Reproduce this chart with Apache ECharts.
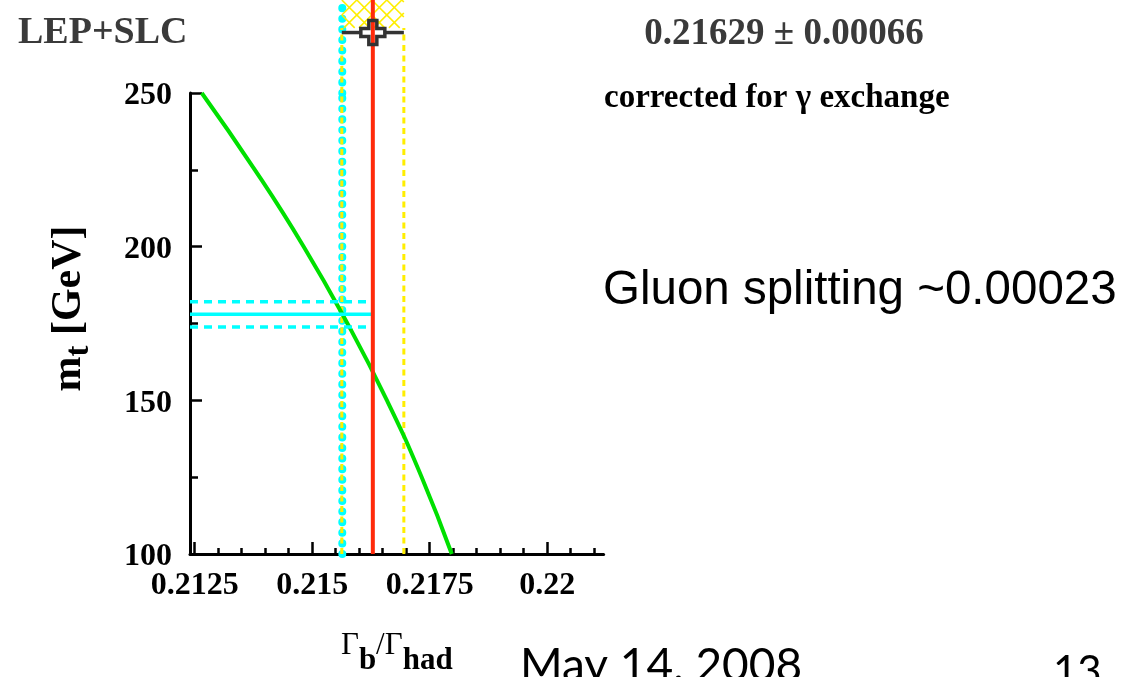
<!DOCTYPE html>
<html>
<head>
<meta charset="utf-8">
<script src="https://cdn.jsdelivr.net/npm/echarts@6/dist/echarts.min.js"></script>
<style>
  html, body { margin: 0; padding: 0; background: #fff; }
  #chart { width: 1122px; height: 677px; }
</style>
</head>
<body>
<div id="chart"></div>
<script>
// Standard Model prediction of Gamma_b/Gamma_had as a function of the top mass
const mtGrid = [100, 125, 150, 175, 200, 225, 250];
const rbSM   = [0.21797, 0.21733, 0.21659, 0.21575, 0.21482, 0.21378, 0.21265];

// Combined LEP+SLC measurement
const rbMeas = 0.21629;
const rbErr  = 0.00066;

// Top mass and the SM value of Gamma_b/Gamma_had at that mass
const mtMeas = 178.0;
const mtErr  = 4.1;
const rbPred = 0.21564;

// Axis ranges and tick labels
const xRange = [0.2124, 0.2212];
const yRange = [100, 250];
const xMajorTicks = [0.2125, 0.215, 0.2175, 0.22];
const xTickLabels = ['0.2125', '0.215', '0.2175', '0.22'];
const yMajorTicks = [100, 150, 200, 250];
const yTickLabels = ['100', '150', '200', '250'];

const xMinorTicks = [];
for (let i = 0; i <= 17; i++) xMinorTicks.push(Number((0.2125 + i * 0.0005).toFixed(4)));
const yMinorTicks = [];
for (let v = 100; v <= 250; v += 25) yMinorTicks.push(v);

// Layout of the measurement strip above the frame (its own 0..1 scale)
const bandFloor = 0.70;
const measRow = 0.65;

const SERIF = '"Liberation Serif", "DejaVu Serif", serif';

function labelFor(ticks, labels, wrap) {
  return function (v) {
    let best = 0;
    for (let i = 1; i < ticks.length; i++) {
      if (Math.abs(ticks[i] - v) < Math.abs(ticks[best] - v)) best = i;
    }
    return wrap ? '{n|' + labels[best] + '}' : labels[best];
  };
}

// clip an infinite line (point + direction) to a rectangle
function clipLine(ax, ay, dx, dy, x0, y0, x1, y1) {
  let tmin = -Infinity, tmax = Infinity;
  const t1 = (x0 - ax) / dx, t2 = (x1 - ax) / dx;
  tmin = Math.max(tmin, Math.min(t1, t2));
  tmax = Math.min(tmax, Math.max(t1, t2));
  const t3 = (y0 - ay) / dy, t4 = (y1 - ay) / dy;
  tmin = Math.max(tmin, Math.min(t3, t4));
  tmax = Math.min(tmax, Math.max(t3, t4));
  if (!(tmin < tmax)) return null;
  return [ax + dx * tmin, ay + dy * tmin, ax + dx * tmax, ay + dy * tmax];
}

function vline(x, y0, y1, xi, yi, style, z) {
  return {
    type: 'line', xAxisIndex: xi, yAxisIndex: yi, data: [[x, y0], [x, y1]],
    symbol: 'none', silent: true, animation: false, z: z, lineStyle: style
  };
}
function hline(x0, x1, y, style, z) {
  return {
    type: 'line', xAxisIndex: 0, yAxisIndex: 0, data: [[x0, y], [x1, y]],
    symbol: 'none', silent: true, animation: false, z: z, lineStyle: style
  };
}

const CYAN = '#00ffff';
const YELLOW = '#ffee00';
const RED = '#ff2a0a';
const GREEN = '#00e000';

const dotted = { color: CYAN, width: 8, type: [0.1, 10.5], cap: 'round' };
const yellowDash = { color: YELLOW, width: 3, type: [6, 4.5] };
const redLine = { color: RED, width: 4 };

const chart = echarts.init(document.getElementById('chart'), null, { renderer: 'canvas' });

chart.setOption({
  backgroundColor: '#fff',
  animation: false,
  grid: [
    { left: 190, top: 93, width: 413.6, height: 461, outerBoundsMode: 'none', containLabel: false },
    { left: 190, top: 0, width: 413.6, height: 93, outerBoundsMode: 'none', containLabel: false }
  ],
  xAxis: [
    {
      gridIndex: 0, type: 'value', min: xRange[0], max: xRange[1], position: 'bottom',
      axisLine: { show: true, onZero: false, lineStyle: { color: '#000', width: 3 } },
      axisTick: { show: true, inside: true, length: 12, customValues: xMajorTicks, lineStyle: { color: '#000', width: 2.5 } },
      axisLabel: {
        customValues: xMajorTicks, formatter: labelFor(xMajorTicks, xTickLabels, false),
        fontFamily: SERIF, fontWeight: 'bold', fontSize: 32, color: '#000', margin: 16
      },
      splitLine: { show: false },
      name: '{g|Γ}{s|b}{g|/Γ}{s|had}',
      nameLocation: 'middle', nameGap: 61,
      nameTextStyle: {
        fontFamily: SERIF, fontSize: 31, color: '#000',
        rich: {
          g: { fontFamily: SERIF, fontSize: 31, color: '#000' },
          s: { fontFamily: SERIF, fontSize: 31, fontWeight: 'bold', color: '#000', padding: [30, 0, 0, 0] }
        }
      }
    },
    {
      gridIndex: 0, type: 'value', min: xRange[0], max: xRange[1], position: 'bottom',
      axisLine: { show: false },
      axisTick: { show: true, inside: true, length: 6, customValues: xMinorTicks, lineStyle: { color: '#000', width: 2.5 } },
      axisLabel: { show: false }, splitLine: { show: false }
    },
    { gridIndex: 1, type: 'value', min: xRange[0], max: xRange[1], show: false }
  ],
  yAxis: [
    {
      gridIndex: 0, type: 'value', min: yRange[0], max: yRange[1], position: 'left',
      axisLine: { show: true, onZero: false, lineStyle: { color: '#000', width: 3 } },
      axisTick: { show: true, inside: true, length: 12, customValues: yMajorTicks, lineStyle: { color: '#000', width: 2.5 } },
      axisLabel: {
        customValues: yMajorTicks, formatter: labelFor(yMajorTicks, yTickLabels, true),
        fontFamily: SERIF, fontWeight: 'bold', fontSize: 32, color: '#000', margin: 18,
        rich: {
          n: { fontFamily: SERIF, fontWeight: 'bold', fontSize: 32, color: '#000', padding: [6, 0, 0, 0] }
        }
      },
      splitLine: { show: false },
      name: '{m|m}{t|t}{m| [GeV]}',
      nameLocation: 'middle', nameRotate: 90, nameGap: 94,
      nameTextStyle: {
        fontFamily: SERIF, fontSize: 42, fontWeight: 'bold', color: '#000',
        padding: [0, 0, 0, 30],
        rich: {
          m: { fontFamily: SERIF, fontSize: 42, fontWeight: 'bold', color: '#000' },
          t: { fontFamily: SERIF, fontSize: 33, fontWeight: 'bold', color: '#000', padding: [20, 0, 0, 0] }
        }
      }
    },
    {
      gridIndex: 0, type: 'value', min: yRange[0], max: yRange[1], position: 'left',
      axisLine: { show: false },
      axisTick: { show: true, inside: true, length: 8, customValues: yMinorTicks, lineStyle: { color: '#000', width: 2.5 } },
      axisLabel: { show: false }, splitLine: { show: false }
    },
    { gridIndex: 1, type: 'value', min: 0, max: 1, show: false }
  ],
  series: [
    // SM prediction at the measured top mass
    vline(rbPred, yRange[0], yRange[1], 0, 0, dotted, 1),
    vline(rbPred, 0, 1, 2, 2, dotted, 1),
    // measurement band edges
    vline(rbMeas - rbErr, yRange[0], yRange[1], 0, 0, yellowDash, 2),
    vline(rbMeas + rbErr, yRange[0], yRange[1], 0, 0, yellowDash, 2),
    vline(rbMeas - rbErr, 0, bandFloor, 2, 2, yellowDash, 2),
    vline(rbMeas + rbErr, 0, bandFloor, 2, 2, yellowDash, 2),
    // cross-hatched measurement band in the strip
    {
      type: 'custom', xAxisIndex: 2, yAxisIndex: 2, silent: true, animation: false, z: 2,
      data: [[rbMeas, measRow]],
      renderItem: function (params, api) {
        const a = api.coord([rbMeas - rbErr, 1]);
        const b = api.coord([rbMeas + rbErr, bandFloor]);
        const x0 = a[0], y0 = a[1], x1 = b[0], y1 = b[1];
        const step = 15;
        const children = [];
        const n = Math.ceil((x1 - x0 + (y1 - y0)) / step) + 2;
        for (let k = -n; k <= n; k++) {
          const ax = x0 + k * step;
          const s1 = clipLine(ax, y0, 1, 1, x0, y0, x1, y1);
          const s2 = clipLine(ax, y0, 1, -1, x0, y0, x1, y1);
          [s1, s2].forEach(function (s) {
            if (s) children.push({
              type: 'line', shape: { x1: s[0], y1: s[1], x2: s[2], y2: s[3] },
              style: { stroke: YELLOW, lineWidth: 1.6 }
            });
          });
        }
        return { type: 'group', children: children };
      }
    },
    // SM curve
    {
      type: 'line', xAxisIndex: 0, yAxisIndex: 0, smooth: true, symbol: 'none',
      silent: true, animation: false, z: 3,
      data: mtGrid.map(function (m, i) { return [rbSM[i], m]; }),
      lineStyle: { color: GREEN, width: 4 }
    },
    // top mass and its uncertainty
    hline(xRange[0], rbMeas, mtMeas, { color: CYAN, width: 3.5 }, 4),
    hline(xRange[0], rbMeas, mtMeas + mtErr, { color: CYAN, width: 3.5, type: [8, 6] }, 4),
    hline(xRange[0], rbMeas, mtMeas - mtErr, { color: CYAN, width: 3.5, type: [8, 6] }, 4),
    // central measured value
    vline(rbMeas, yRange[0], yRange[1], 0, 0, redLine, 5),
    vline(rbMeas, 0, 1, 2, 2, redLine, 5),
    // measurement with its error bar
    {
      type: 'custom', xAxisIndex: 2, yAxisIndex: 2, silent: true, animation: false, z: 6,
      data: [[rbMeas, measRow]],
      renderItem: function (params, api) {
        const c = api.coord([rbMeas, measRow]);
        const lo = api.coord([rbMeas - rbErr, measRow]);
        const hi = api.coord([rbMeas + rbErr, measRow]);
        const h = 12, w = 4;
        const cx = c[0], cy = c[1];
        const ink = { stroke: '#333', lineWidth: 3.5, fill: null };
        return {
          type: 'group',
          children: [
            { type: 'line', shape: { x1: lo[0], y1: cy, x2: cx - h, y2: cy }, style: ink },
            { type: 'line', shape: { x1: cx + h, y1: cy, x2: hi[0], y2: cy }, style: ink },
            {
              type: 'polygon',
              shape: {
                points: [
                  [cx - w, cy - h], [cx + w, cy - h], [cx + w, cy - w], [cx + h, cy - w],
                  [cx + h, cy + w], [cx + w, cy + w], [cx + w, cy + h], [cx - w, cy + h],
                  [cx - w, cy + w], [cx - h, cy + w], [cx - h, cy - w], [cx - w, cy - w]
                ]
              },
              style: { stroke: '#333', lineWidth: 3.5, fill: 'none' }
            }
          ]
        };
      }
    }
  ],
  graphic: [
    {
      type: 'text', x: 18, y: 33, silent: true,
      style: { text: 'LEP+SLC', font: 'bold 38px ' + SERIF, fill: '#3a3a3a', textVerticalAlign: 'middle' }
    },
    {
      type: 'text', x: 784, y: 34, silent: true,
      style: { text: '0.21629 ± 0.00066', font: 'bold 37px ' + SERIF, fill: '#3a3a3a', textAlign: 'center', textVerticalAlign: 'middle' }
    },
    {
      type: 'text', x: 604, y: 98, silent: true,
      style: { text: 'corrected for γ exchange', font: 'bold 33px ' + SERIF, fill: '#000', textVerticalAlign: 'middle' }
    },
    {
      type: 'text', x: 603, y: 291, silent: true,
      style: { text: 'Gluon splitting ~0.00023', font: '47.5px "Liberation Sans", Arial, sans-serif', fill: '#000', textVerticalAlign: 'middle' }
    },
    {
      type: 'text', x: 520, y: 666, silent: true,
      style: { text: 'May 14, 2008', font: '46px Lato, "Open Sans", sans-serif', fill: '#000', textVerticalAlign: 'middle' }
    },
    {
      type: 'text', x: 1053, y: 672, silent: true,
      style: { text: '13', font: '42px Lato, "Open Sans", sans-serif', fill: '#000', textVerticalAlign: 'middle' }
    }
  ]
});
</script>
</body>
</html>
